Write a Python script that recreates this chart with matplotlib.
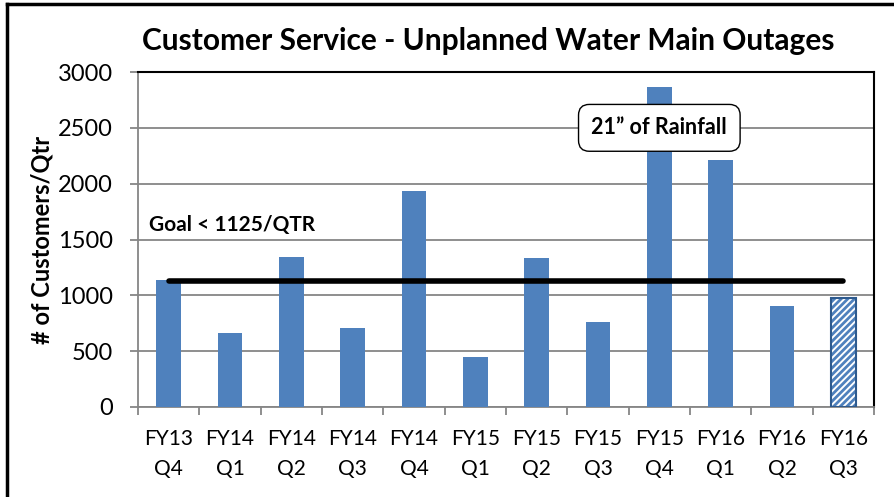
import matplotlib.pyplot as plt
from matplotlib.lines import Line2D
from matplotlib.ticker import FixedLocator

plt.rcParams['font.family'] = ['Lato', 'DejaVu Sans']
plt.rcParams['hatch.linewidth'] = 2.0

# data
quarters = ["FY13\nQ4", "FY14\nQ1", "FY14\nQ2", "FY14\nQ3", "FY14\nQ4", "FY15\nQ1",
            "FY15\nQ2", "FY15\nQ3", "FY15\nQ4", "FY16\nQ1", "FY16\nQ2", "FY16\nQ3"]
customers = [1135, 663, 1346, 708, 1933, 444, 1338, 764, 2865, 2212, 908, 980]
goal = 1125
partial_index = 11  # last quarter still in progress (hatched)

fig = plt.figure(figsize=(8.94, 4.97), dpi=100)
ax = fig.add_axes([0.1544, 0.1811, 0.8232, 0.674])

x = list(range(len(quarters)))
full_x = [i for i in x if i != partial_index]
full_y = [customers[i] for i in full_x]
ax.bar(full_x, full_y, width=0.4, color='#4F81BD', zorder=3)
ax.bar([partial_index], [customers[partial_index]], width=0.4, color='white',
       edgecolor='#4F81BD', hatch='/////', linewidth=0, zorder=3)
ax.bar([partial_index], [customers[partial_index]], width=0.4, color='none',
       edgecolor='#2E5A8E', linewidth=1.5, zorder=4)

# goal line from first to last bar
ax.plot([x[0], x[-1]], [goal, goal], color='black', linewidth=4,
        solid_capstyle='round', zorder=5)
ax.text(-0.32, 1630, "Goal < 1125/QTR", fontsize=15, fontweight='bold',
        ha='left', va='center', zorder=6)

ax.text(8.0, 2500, "21\u201d of Rainfall", fontsize=15.5, fontweight='bold',
        ha='center', va='center', zorder=6,
        bbox=dict(boxstyle='round,pad=0.6,rounding_size=0.5', facecolor='white',
                  edgecolor='black', linewidth=1))

ax.set_xlim(-0.5, len(quarters) - 0.5)
ax.set_ylim(0, 3000)
ax.set_yticks(range(0, 3001, 500))
ax.yaxis.grid(True, color='#868686', linewidth=1.3, zorder=0)
ax.set_axisbelow(True)

ax.set_xticks(x)
ax.set_xticklabels(quarters, fontsize=15, linespacing=1.6)
ax.xaxis.set_minor_locator(FixedLocator([i + 0.5 for i in range(-1, len(quarters))]))
ax.tick_params(axis='x', which='major', length=0, pad=16)
ax.tick_params(axis='x', which='minor', length=6, color='#868686', width=1.3)
ax.tick_params(axis='y', length=6, color='#868686', width=1.3, labelsize=17, pad=12)

for side in ['left', 'bottom']:
    ax.spines[side].set_color('#868686')
    ax.spines[side].set_linewidth(1.3)
for side in ['top', 'right']:
    ax.spines[side].set_color('black')
    ax.spines[side].set_linewidth(1.5)

ax.set_ylabel("# of Customers/Qtr", fontsize=17, fontweight='bold', labelpad=3)
fig.text(0.546, 0.918, "Customer Service - Unplanned Water Main Outages",
         fontsize=21.5, fontweight='bold', ha='center', va='center')

# outer frame (left and top edges visible in the reference)
fig.add_artist(Line2D([0.008, 0.008], [0, 0.992], transform=fig.transFigure,
                      color='black', linewidth=2.5))
fig.add_artist(Line2D([0.008, 1.0], [0.992, 0.992], transform=fig.transFigure,
                      color='black', linewidth=2.5))

fig.savefig('out.png', dpi=100)
